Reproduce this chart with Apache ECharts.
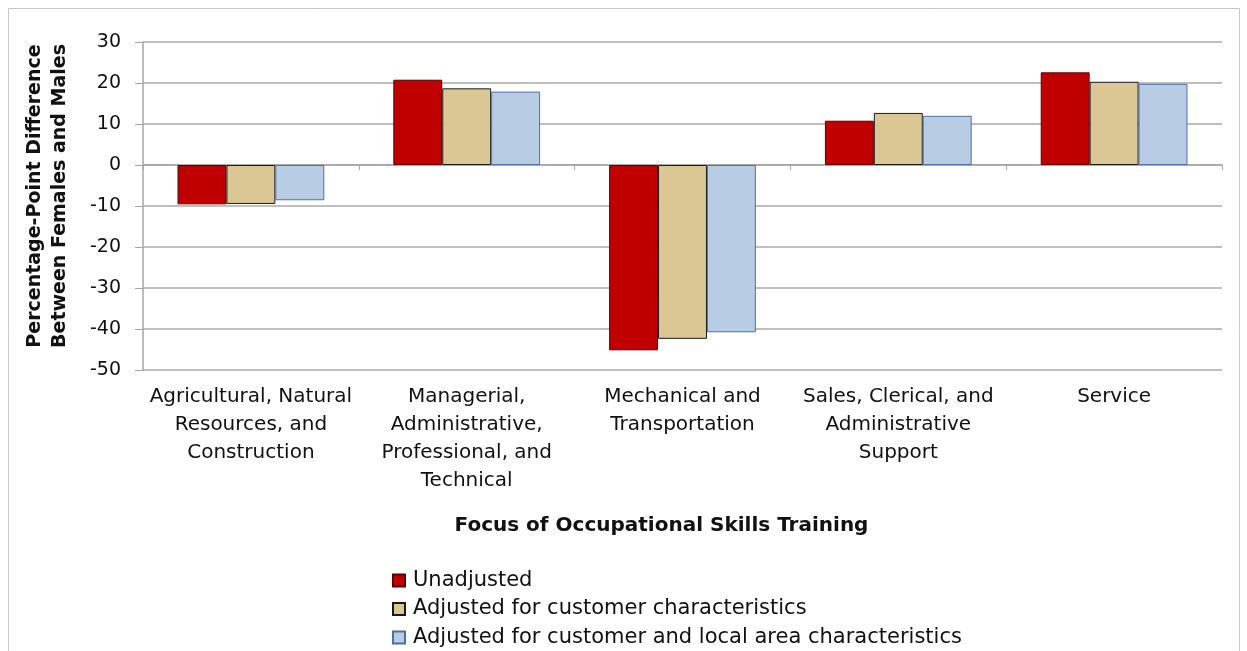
<!DOCTYPE html>
<html>
<head>
<meta charset="utf-8">
<script src="https://cdn.jsdelivr.net/npm/echarts@6/dist/echarts.min.js"></script>
<style>
  html, body { margin: 0; padding: 0; background: #fff; }
  #chart { width: 1247px; height: 651px; }
</style>
</head>
<body>
<div id="chart"></div>
<script>
// categories (occupational training focus)
const categories = [
  'Agricultural, Natural\nResources, and\nConstruction',
  'Managerial,\nAdministrative,\nProfessional, and\nTechnical',
  'Mechanical and\nTransportation',
  'Sales, Clerical, and\nAdministrative\nSupport',
  'Service'
];
const unadjusted = [-9.6, 20.8, -45.2, 10.8, 22.6];
const adjCustomer = [-9.5, 18.7, -42.4, 12.7, 20.3];
const adjCustomerArea = [-8.6, 17.9, -40.8, 12.0, 19.8];
const yTicks = { min: -50, max: 30, interval: 10 };

const chart = echarts.init(document.getElementById('chart'));
const font = '"DejaVu Sans", Arial, sans-serif';

const option = {
  backgroundColor: '#fff',
  animation: false,
  textStyle: { fontFamily: font },
  graphic: [{
    type: 'rect',
    shape: { x: 8.5, y: 8.5, width: 1231, height: 700 },
    style: { fill: 'none', stroke: '#c8c8c8', lineWidth: 1 },
    silent: true
  }],
  legend: {
    orient: 'vertical',
    left: 392,
    top: 570,
    padding: 0,
    itemWidth: 12,
    itemHeight: 12,
    itemGap: 7.5,
    icon: 'rect',
    textStyle: { fontSize: 21, lineHeight: 20, color: '#111', padding: [0, 0, 0, 3], fontFamily: font }
  },
  grid: { left: 143, right: 25, top: 42, bottom: 281 },
  xAxis: [{
    type: 'category',
    data: categories,
    position: 'bottom',
    axisLine: { show: false, onZero: false },
    axisTick: { show: false },
    axisLabel: {
      fontSize: 20, color: '#111', lineHeight: 28, margin: 13, interval: 0
    },
    name: 'Focus of Occupational Skills Training',
    nameLocation: 'middle',
    nameGap: 146,
    nameTextStyle: { fontSize: 20, fontWeight: 'bold', color: '#111', padding: [0, 42, 0, 0] }
  }, {
    type: 'category',
    data: categories,
    position: 'bottom',
    axisLine: { show: true, onZero: true, lineStyle: { color: '#a6a6a6', width: 1.5 } },
    axisTick: { show: true, length: 5, lineStyle: { color: '#a6a6a6' } },
    axisLabel: { show: false }
  }],
  yAxis: {
    type: 'value',
    min: yTicks.min,
    max: yTicks.max,
    interval: yTicks.interval,
    axisLine: { show: true, lineStyle: { color: '#a6a6a6', width: 1.5 } },
    axisTick: { show: true, length: 8, lineStyle: { color: '#a6a6a6' } },
    axisLabel: { fontSize: 19, color: '#111', margin: 22 },
    splitLine: { lineStyle: { color: '#aaaaaa', width: 1.5 } },
    name: 'Percentage-Point Difference\nBetween Females and Males',
    nameLocation: 'middle',
    nameGap: 70,
    nameTextStyle: { fontSize: 19, fontWeight: 'bold', color: '#111', lineHeight: 25, padding: [0, 0, 0, 20] }
  },
  series: [{
    name: 'Unadjusted',
    type: 'bar',
    data: unadjusted,
    barGap: '0%',
    barCategoryGap: '32%',
    itemStyle: { color: '#c00000', borderColor: '#5a0000', borderWidth: 1 }
  }, {
    name: 'Adjusted for customer characteristics',
    type: 'bar',
    data: adjCustomer,
    itemStyle: { color: '#dbc793', borderColor: '#1a1a1a', borderWidth: 1 }
  }, {
    name: 'Adjusted for customer and local area characteristics',
    type: 'bar',
    data: adjCustomerArea,
    itemStyle: { color: '#b8cce4', borderColor: '#4f6fa8', borderWidth: 1 }
  }]
};
chart.setOption(option);
</script>
</body>
</html>
